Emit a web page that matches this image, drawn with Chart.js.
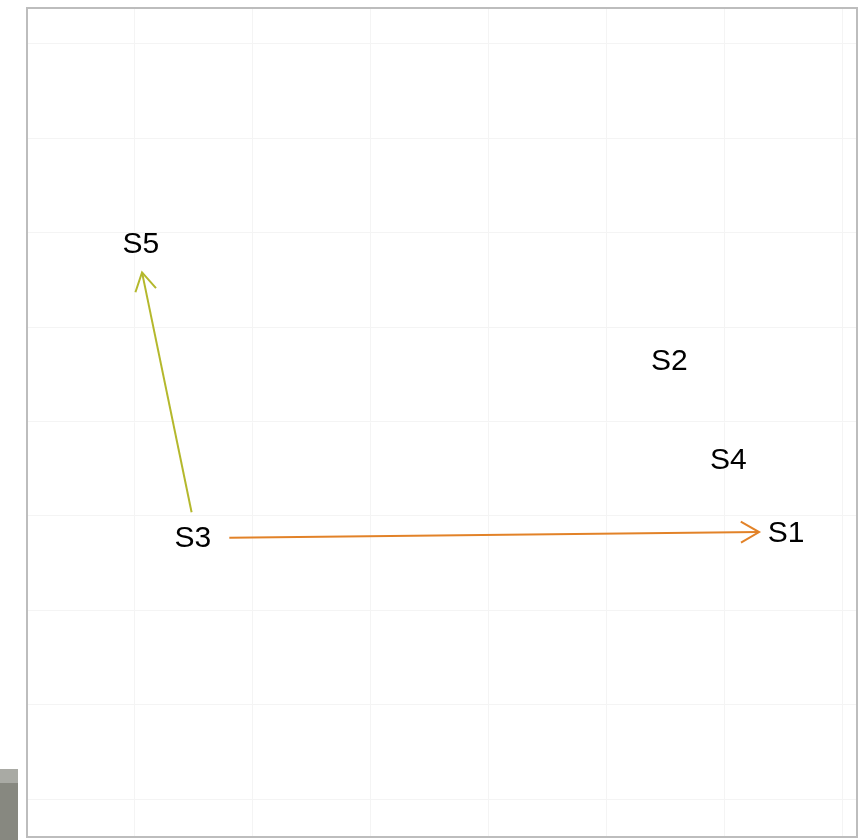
<!DOCTYPE html>
<html>
<head>
<meta charset="utf-8">
<script src="https://cdn.jsdelivr.net/npm/chart.js@4/dist/chart.umd.min.js"></script>
<style>
  html, body { margin: 0; padding: 0; background: #fff; }
  #wrap { position: relative; width: 867px; height: 840px; }
  #strip { position: absolute; left: 0; top: 769px; width: 18px; height: 71px;
           background: #878880; border-top: 14px solid #a9aaa4; box-sizing: border-box; }
</style>
</head>
<body>
<div id="wrap">
  <canvas id="biplot" width="867" height="840"></canvas>
  <div id="strip"></div>
</div>
<script>
// sample labels and their positions
const sampleNames = ["S1", "S2", "S3", "S4", "S5"];
const sampleX = [5.52, 4.53, 0.49, 5.03, 0.05];
const sampleY = [2.83, 4.66, 2.78, 3.61, 5.89];

// arrows (S3 -> S5, S3 -> S1)
const arrowStartX = [0.48, 0.80];
const arrowStartY = [3.04, 2.77];
const arrowEndX = [0.06, 5.29];
const arrowEndY = [5.58, 2.83];
const arrowColors = ["rgb(180, 184, 44)", "rgb(226, 130, 40)"];

// grid positions
const xTicks = [0, 1, 2, 3, 4, 5, 6];
const yTicks = [0, 1, 2, 3, 4, 5, 6, 7, 8];

const arrowSets = arrowStartX.map((x0, i) => ({
  type: "line",
  data: [{ x: x0, y: arrowStartY[i] }, { x: arrowEndX[i], y: arrowEndY[i] }],
  borderColor: arrowColors[i],
  borderWidth: 2,
  pointRadius: 0,
  fill: false,
}));

const labelsAndArrows = {
  id: "labelsAndArrows",
  afterDatasetsDraw(chart) {
    const { ctx, chartArea: a, scales } = chart;
    ctx.save();
    // arrow heads
    arrowEndX.forEach((xe, i) => {
      const x1 = scales.x.getPixelForValue(arrowStartX[i]);
      const y1 = scales.y.getPixelForValue(arrowStartY[i]);
      const x2 = scales.x.getPixelForValue(xe);
      const y2 = scales.y.getPixelForValue(arrowEndY[i]);
      const ang = Math.atan2(y2 - y1, x2 - x1);
      const len = 21, spread = Math.PI / 6;
      ctx.strokeStyle = arrowColors[i];
      ctx.lineWidth = 2;
      ctx.beginPath();
      ctx.moveTo(x2 - len * Math.cos(ang - spread), y2 - len * Math.sin(ang - spread));
      ctx.lineTo(x2, y2);
      ctx.lineTo(x2 - len * Math.cos(ang + spread), y2 - len * Math.sin(ang + spread));
      ctx.stroke();
    });
    // sample labels
    ctx.fillStyle = "#000";
    ctx.font = "30px 'Liberation Sans', Arial, sans-serif";
    ctx.textAlign = "center";
    ctx.textBaseline = "middle";
    sampleNames.forEach((name, i) => {
      ctx.fillText(name, scales.x.getPixelForValue(sampleX[i]), scales.y.getPixelForValue(sampleY[i]) + 2);
    });
    // panel border
    ctx.strokeStyle = "#bdbdbd";
    ctx.lineWidth = 2;
    ctx.strokeRect(a.left, a.top, a.right - a.left, a.bottom - a.top);
    ctx.restore();
  },
};

const ctx = document.getElementById("biplot").getContext("2d");
new Chart(ctx, {
  type: "scatter",
  data: { datasets: arrowSets },
  options: {
    responsive: false,
    animation: false,
    devicePixelRatio: 1,
    layout: { padding: { left: 27, top: 8, right: 10, bottom: 3 } },
    plugins: { legend: { display: false }, tooltip: { enabled: false } },
    scales: {
      x: {
        type: "linear",
        min: -0.915,
        max: 6.12,
        afterBuildTicks: (s) => { s.ticks = xTicks.map((v) => ({ value: v })); },
        afterFit: (s) => { s.height = 0; },
        ticks: { display: false },
        grid: { color: "#f4f4f4", lineWidth: 1, drawTicks: false },
        border: { display: false },
      },
      y: {
        type: "linear",
        min: -0.40,
        max: 8.38,
        afterBuildTicks: (s) => { s.ticks = yTicks.map((v) => ({ value: v })); },
        afterFit: (s) => { s.width = 0; },
        ticks: { display: false },
        grid: { color: "#f4f4f4", lineWidth: 1, drawTicks: false },
        border: { display: false },
      },
    },
  },
  plugins: [labelsAndArrows],
});
</script>
</body>
</html>
